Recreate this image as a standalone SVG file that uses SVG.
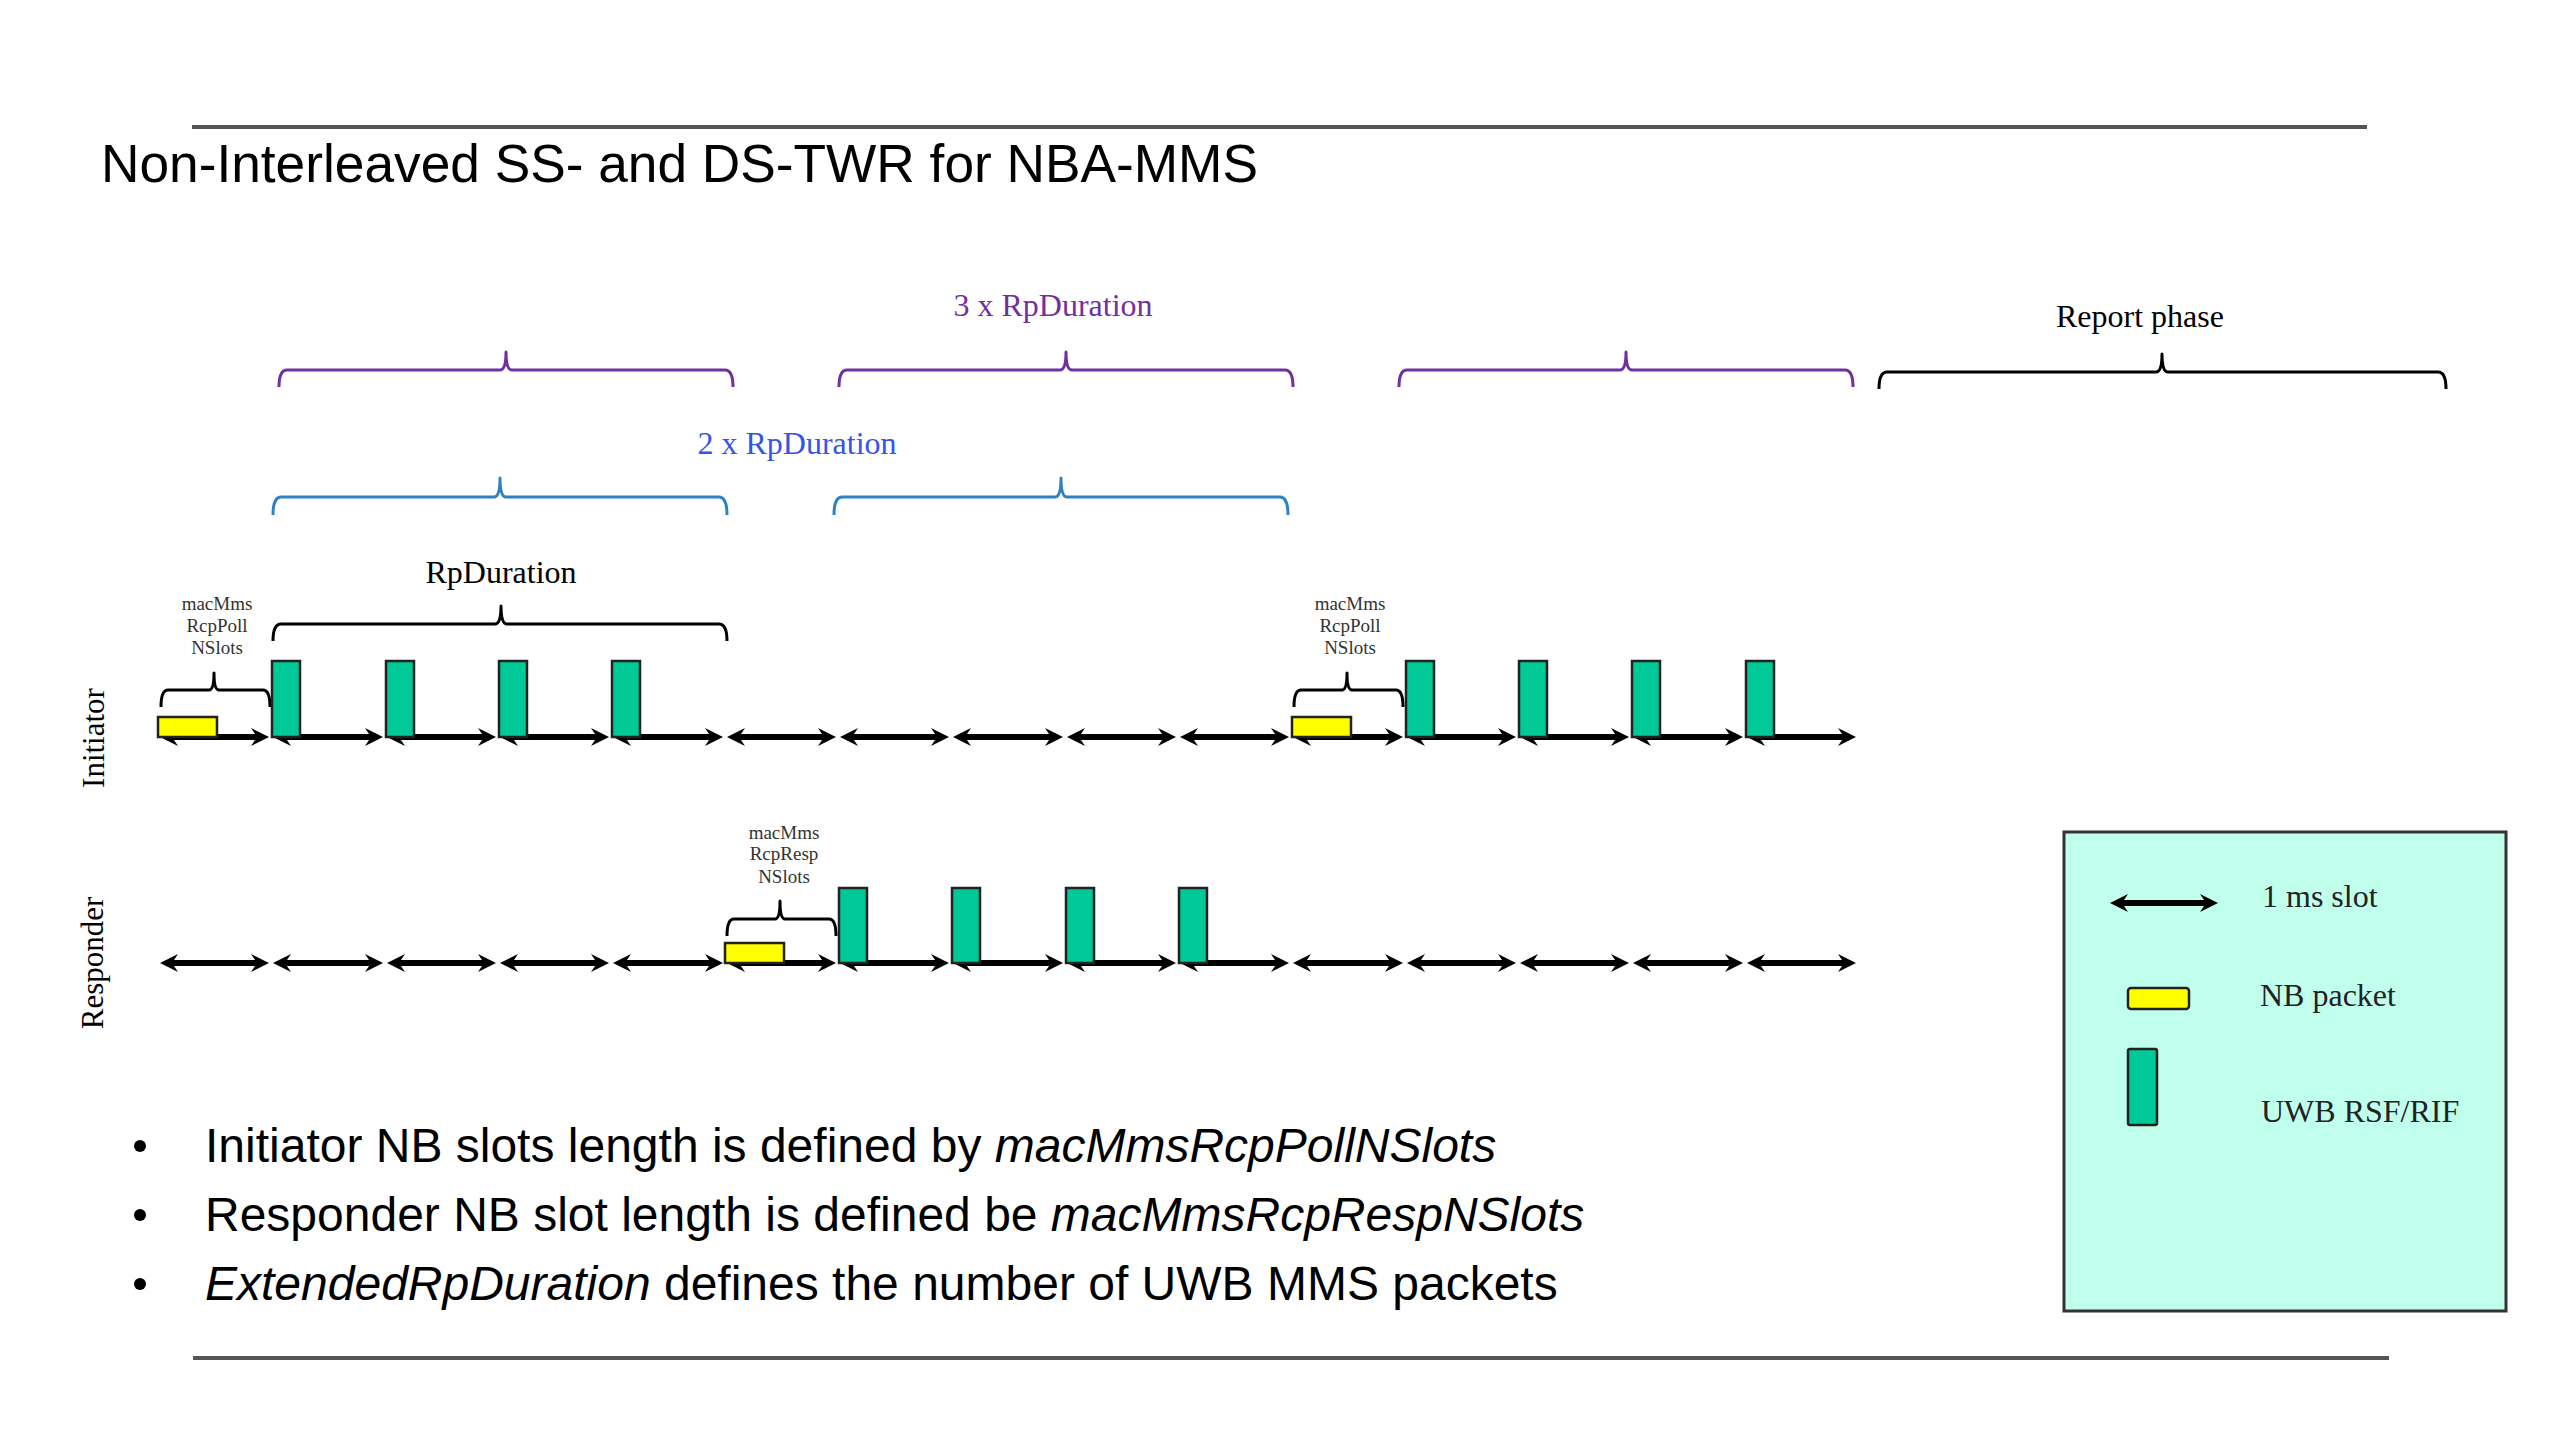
<svg xmlns="http://www.w3.org/2000/svg" width="2560" height="1440" viewBox="0 0 2560 1440">
<defs>
<marker id="ah" viewBox="-11 -10 20 20" refX="0" refY="0" markerWidth="20" markerHeight="20" markerUnits="userSpaceOnUse" orient="auto-start-reverse">
<path d="M8,0 L-10,-9 L-4,0 L-10,9 Z" fill="#000"/>
</marker>
<style>
.rule{stroke:#555;stroke-width:4}
.slot{stroke:#000;stroke-width:6;marker-start:url(#ah);marker-end:url(#ah)}
.uwb{fill:#00C896;stroke:#222;stroke-width:2.5}
.nb{fill:#FFFF00;stroke:#222;stroke-width:2.5}
.brace{fill:none;stroke-width:3;stroke-linejoin:round}
.bp{stroke:#7030A0}
.bb{stroke:#2F80C4}
.bk{stroke:#000}
.serif{font-family:"Liberation Serif","Times New Roman",serif}
.sans{font-family:"Liberation Sans",Arial,sans-serif}
.lbl{font-size:32px}
.small{font-size:19px;fill:#333;text-anchor:middle}
.bullet{font-size:48px;fill:#000}
.leg{font-size:32px;fill:#222}
</style>
</defs>
<rect width="2560" height="1440" fill="#fff"/>
<line class="rule" x1="192" y1="127" x2="2367" y2="127"/>
<line class="rule" x1="193" y1="1358" x2="2389" y2="1358"/>
<text class="sans" x="101" y="182" font-size="54" textLength="1157" lengthAdjust="spacingAndGlyphs">Non-Interleaved SS- and DS-TWR for NBA-MMS</text>

<g id="brace-3x" class="brace bp">
<path d="M279,387 Q279,370 287,370 L500,370 Q506,370 506,352 Q506,370 512,370 L725,370 Q733,370 733,387"/>
<path d="M839,387 Q839,370 847,370 L1060,370 Q1066,370 1066,352 Q1066,370 1072,370 L1285,370 Q1293,370 1293,387"/>
<path d="M1399,387 Q1399,370 1407,370 L1620,370 Q1626,370 1626,352 Q1626,370 1632,370 L1845,370 Q1853,370 1853,387"/>
</g>
<text id="label-3x" class="serif lbl" x="1053" y="316" text-anchor="middle" fill="#7030A0">3 x RpDuration</text>
<g id="brace-report" class="brace bk">
<path d="M1879,389 Q1879,372 1887,372 L2156,372 Q2162,372 2162,354 Q2162,372 2168,372 L2438,372 Q2446,372 2446,389"/>
</g>
<text id="label-report" class="serif lbl" x="2140" y="327" text-anchor="middle" fill="#000">Report phase</text>

<g id="brace-2x" class="brace bb">
<path d="M273,515 Q273,497 281,497 L494,497 Q500,497 500,478 Q500,497 506,497 L719,497 Q727,497 727,515"/>
<path d="M834,515 Q834,497 842,497 L1055,497 Q1061,497 1061,478 Q1061,497 1067,497 L1280,497 Q1288,497 1288,515"/>
</g>
<text id="label-2x" class="serif lbl" x="797" y="454" text-anchor="middle" fill="#3355E8">2 x RpDuration</text>

<g id="brace-rp" class="brace bk">
<path d="M273,641 Q273,624 281,624 L495,624 Q501,624 501,606 Q501,624 507,624 L719,624 Q727,624 727,641"/>
</g>
<text id="label-rp" class="serif lbl" x="501" y="583" text-anchor="middle" fill="#000">RpDuration</text>

<g id="row-labels" class="serif" font-size="31" fill="#000" text-anchor="middle">
<text x="104" y="738" transform="rotate(-90 104 738)">Initiator</text>
<text x="103" y="963" transform="rotate(-90 103 963)">Responder</text>
</g>

<g id="connectors">
<g id="initiator-slots">
<line class="slot" x1="168" y1="737" x2="261" y2="737"/>
<line class="slot" x1="281" y1="737" x2="375" y2="737"/>
<line class="slot" x1="395" y1="737" x2="488" y2="737"/>
<line class="slot" x1="508" y1="737" x2="601" y2="737"/>
<line class="slot" x1="621" y1="737" x2="715" y2="737"/>
<line class="slot" x1="735" y1="737" x2="828" y2="737"/>
<line class="slot" x1="848" y1="737" x2="941" y2="737"/>
<line class="slot" x1="961" y1="737" x2="1055" y2="737"/>
<line class="slot" x1="1075" y1="737" x2="1168" y2="737"/>
<line class="slot" x1="1188" y1="737" x2="1281" y2="737"/>
<line class="slot" x1="1301" y1="737" x2="1395" y2="737"/>
<line class="slot" x1="1415" y1="737" x2="1508" y2="737"/>
<line class="slot" x1="1528" y1="737" x2="1621" y2="737"/>
<line class="slot" x1="1641" y1="737" x2="1735" y2="737"/>
<line class="slot" x1="1755" y1="737" x2="1848" y2="737"/>
</g>
<g id="responder-slots">
<line class="slot" x1="168" y1="963" x2="261" y2="963"/>
<line class="slot" x1="281" y1="963" x2="375" y2="963"/>
<line class="slot" x1="395" y1="963" x2="488" y2="963"/>
<line class="slot" x1="508" y1="963" x2="601" y2="963"/>
<line class="slot" x1="621" y1="963" x2="715" y2="963"/>
<line class="slot" x1="735" y1="963" x2="828" y2="963"/>
<line class="slot" x1="848" y1="963" x2="941" y2="963"/>
<line class="slot" x1="961" y1="963" x2="1055" y2="963"/>
<line class="slot" x1="1075" y1="963" x2="1168" y2="963"/>
<line class="slot" x1="1188" y1="963" x2="1281" y2="963"/>
<line class="slot" x1="1301" y1="963" x2="1395" y2="963"/>
<line class="slot" x1="1415" y1="963" x2="1508" y2="963"/>
<line class="slot" x1="1528" y1="963" x2="1621" y2="963"/>
<line class="slot" x1="1641" y1="963" x2="1735" y2="963"/>
<line class="slot" x1="1755" y1="963" x2="1848" y2="963"/>
</g>
</g>

<g id="initiator-poll-1">
<rect class="nb" x="158" y="717" width="59" height="20"/>
<path class="brace bk" stroke-width="2.5" d="M161,707 Q161,690 168,690 L209,690 Q214,690 214,673 Q214,690 219,690 L263,690 Q270,690 270,707"/>
<text class="serif small" x="217" y="610">macMms</text>
<text class="serif small" x="217" y="632">RcpPoll</text>
<text class="serif small" x="217" y="654">NSlots</text>
</g>
<g id="initiator-uwb-1">
<rect class="uwb" x="272" y="661" width="28" height="76"/>
<rect class="uwb" x="386" y="661" width="28" height="76"/>
<rect class="uwb" x="499" y="661" width="28" height="76"/>
<rect class="uwb" x="612" y="661" width="28" height="76"/>
</g>
<g id="initiator-poll-2">
<rect class="nb" x="1292" y="717" width="59" height="20"/>
<path class="brace bk" stroke-width="2.5" d="M1294,707 Q1294,690 1301,690 L1342,690 Q1347,690 1347,673 Q1347,690 1352,690 L1396,690 Q1403,690 1403,707"/>
<text class="serif small" x="1350" y="610">macMms</text>
<text class="serif small" x="1350" y="632">RcpPoll</text>
<text class="serif small" x="1350" y="654">NSlots</text>
</g>
<g id="initiator-uwb-2">
<rect class="uwb" x="1406" y="661" width="28" height="76"/>
<rect class="uwb" x="1519" y="661" width="28" height="76"/>
<rect class="uwb" x="1632" y="661" width="28" height="76"/>
<rect class="uwb" x="1746" y="661" width="28" height="76"/>
</g>
<g id="responder-resp">
<rect class="nb" x="725" y="943" width="59" height="20"/>
<path class="brace bk" stroke-width="2.5" d="M727,936 Q727,919 734,919 L775,919 Q780,919 780,901 Q780,919 785,919 L829,919 Q836,919 836,936"/>
<text class="serif small" x="784" y="839">macMms</text>
<text class="serif small" x="784" y="860">RcpResp</text>
<text class="serif small" x="784" y="883">NSlots</text>
</g>
<g id="responder-uwb">
<rect class="uwb" x="839" y="888" width="28" height="75"/>
<rect class="uwb" x="952" y="888" width="28" height="75"/>
<rect class="uwb" x="1066" y="888" width="28" height="75"/>
<rect class="uwb" x="1179" y="888" width="28" height="75"/>
</g>

<g id="legend">
<rect x="2064" y="832" width="442" height="479" fill="#C0FFEC" stroke="#333" stroke-width="3"/>
<line class="slot" x1="2118" y1="903" x2="2210" y2="903"/>
<text class="serif leg" x="2262" y="907">1 ms slot</text>
<rect class="nb" x="2128" y="988" width="61" height="21" rx="3"/>
<text class="serif leg" x="2260" y="1006">NB packet</text>
<rect class="uwb" x="2128" y="1049" width="29" height="76" rx="2"/>
<text class="serif leg" x="2261" y="1122">UWB RSF/RIF</text>
</g>

<g id="bullets" class="sans bullet">
<circle cx="140" cy="1146" r="6" fill="#000"/>
<circle cx="140" cy="1215" r="6" fill="#000"/>
<circle cx="140" cy="1284" r="6" fill="#000"/>
<text x="205" y="1162">Initiator NB slots length is defined by <tspan font-style="italic">macMmsRcpPollNSlots</tspan></text>
<text x="205" y="1231">Responder NB slot length is defined be <tspan font-style="italic">macMmsRcpRespNSlots</tspan></text>
<text x="205" y="1300"><tspan font-style="italic">ExtendedRpDuration</tspan> defines the number of UWB MMS packets</text>
</g>
</svg>
